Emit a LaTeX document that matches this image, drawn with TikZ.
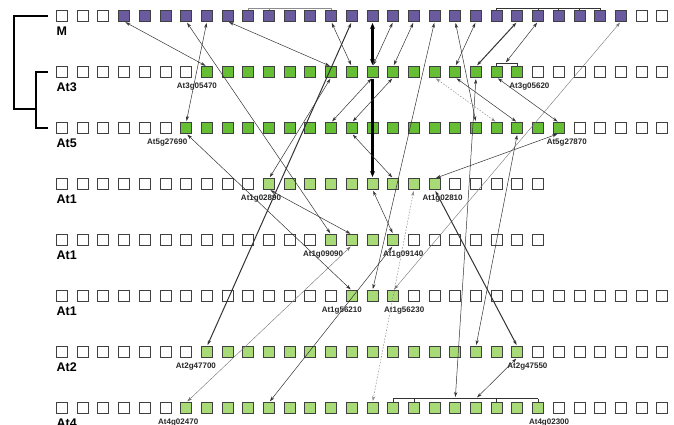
\documentclass[tikz,border=0pt]{standalone}
\usepackage{fontspec}
\setmainfont{Liberation Sans}
\usetikzlibrary{arrows.meta,positioning,calc}
\definecolor{mauve}{HTML}{6A5A9E}
\definecolor{dup}{HTML}{66BE34}
\definecolor{seg}{HTML}{A8DA78}
\definecolor{wire}{HTML}{333333}

\begin{document}
\begin{tikzpicture}[x=1pt, y=-1pt,
  gene/.style={draw=black!75,line width=0.9pt,minimum size=11pt,inner sep=0pt,outer sep=0pt},
  chrom/.style={font=\fontsize{12.5}{14}\selectfont\bfseries,inner sep=0pt,anchor=north west},
  tag/.style={font=\fontsize{8}{9}\selectfont\bfseries,inner sep=0pt,text=black!85},
  link/.style={<->,>={Stealth[length=5pt,width=3.2pt]},draw=wire,line width=0.5pt,shorten <=1.5pt,shorten >=1.5pt},
  bold link/.style={link,line width=1pt},
  heavy/.style={link,line width=2.2pt,>={Stealth[length=6pt,width=5pt]},draw=black},
  faint/.style={link,draw=black!55,line width=0.4pt},
  dotlink/.style={link,draw=black!45,dash pattern=on 1.5pt off 1.5pt},
  brk/.style={draw=black!80,line width=0.7pt},
  tree/.style={draw=black,line width=1.2pt},
]
  \useasboundingbox (0,0) rectangle (674,425);
  \clip (0,0) rectangle (674,425);

  % chromosome rows
  \foreach \row/\ypos/\n/\lo/\hi/\tint in {M/16/29/3/27/mauve, At3/72/29/7/22/dup, At5/128/29/6/24/dup,
      At1a/184/23/10/18/seg, At1b/240/23/13/16/seg, At1c/296/29/14/16/seg, At2/352/29/7/22/seg, At4/408/29/6/23/seg}{
    \foreach \i in {0,...,\n}{
      \ifnum\i<\lo\relax \def\fc{white}\else \ifnum\i>\hi\relax \def\fc{white}\else \edef\fc{\tint}\fi\fi
      \node[gene,fill=\fc] (\row-\i) at ({62+20.7*\i},\ypos) {};
    }
  }
  \foreach \row/\txt in {M/M,At3/At3,At5/At5,At1a/At1,At1b/At1,At1c/At1,At2/At2,At4/At4}
    \node[chrom] (lab-\row) at ([yshift=-5pt]\row-0.south west) {\txt};

  % tree
  \draw[tree] ([xshift=-9pt]M-0.west) -| (14,109) -- (36,109);
  \draw[tree] ([xshift=-9pt]At3-0.west) -| (36,128) -- ([xshift=-9pt]At5-0.west);

  % brackets
  \draw[brk,draw=black!45] ([yshift=2.5pt]M-9.north) -- ([yshift=2.5pt]M-13.north);
  \foreach \i in {9,10,13} \draw[brk,draw=black!45] (M-\i.north) -- ++(0,-2.5);
  \draw[brk] ([yshift=2.5pt]M-21.north) -- ([yshift=2.5pt]M-26.north);
  \foreach \i in {21,23,24,25,26} \draw[brk] (M-\i.north) -- ++(0,-2.5);
  \draw[brk] ([yshift=3pt]At3-21.north) coordinate (b3l) -- ([yshift=3pt]At3-22.north) coordinate (b3r);
  \foreach \i in {21,22} \draw[brk] (At3-\i.north) -- ++(0,-3);
  \draw[brk] ([yshift=4pt]At4-16.north) -- ([yshift=4pt]At4-23.north);
  \foreach \i in {16,17,21,23} \draw[brk] (At4-\i.north) -- ++(0,-4);
  \coordinate (b4a) at ([yshift=4pt]At4-19.north);
  \coordinate (b4b) at ([yshift=4pt]At4-20.north);

  % gene names
  \node[tag,below=5.5pt of At3-7,xshift=-10pt] (g1) {At3g05470};
  \node[tag,below=5.5pt of At3-22,xshift=12pt] (g2) {At3g05620};
  \node[tag,below=5.5pt of At5-6,xshift=-19pt] (g3) {At5g27690};
  \node[tag,below=5.5pt of At5-24,xshift=8pt] (g4) {At5g27870};
  \node[tag,below=5.5pt of At1a-10,xshift=-8pt] (g5) {At1g02890};
  \node[tag,below=5.5pt of At1a-18,xshift=8pt] (g6) {At1g02810};
  \node[tag,below=5.5pt of At1b-13,xshift=-8pt] (g7) {At1g09090};
  \node[tag,below=5.5pt of At1b-16,xshift=10pt] (g8) {At1g09140};
  \node[tag,below=5.5pt of At1c-14,xshift=-10pt] (g9) {At1g56210};
  \node[tag,below=5.5pt of At1c-16,xshift=11pt] (g10) {At1g56230};
  \node[tag,below=5.5pt of At2-7,xshift=-11pt] (g11) {At2g47700};
  \node[tag,below=5.5pt of At2-22,xshift=10pt] (g12) {At2g47550};
  \node[tag,below=5.5pt of At4-6,xshift=-8pt] (g13) {At4g02470};
  \node[tag,below=5.5pt of At4-23,xshift=11pt] (g14) {At4g02300};

  % M to At3 / At5 and below
  \draw[link] (M-3.south) -- (At3-7.north);
  \draw[link] (M-7.south) -- (At5-6.north);
  \draw[link] (M-6.south) -- (At1b-13.north);
  \draw[link] (M-8.south) -- (At3-13.north);
  \draw[link] (M-13.south) -- (At3-14.north);
  \draw[bold link] (M-14.south) -- (At2-7.north);
  \draw[heavy] (M-15.south) -- (At3-15.north);
  \draw[heavy,->] (At3-15.south) -- (At1a-15.north);
  \draw[link] (M-16.south) -- (At3-15.north);
  \draw[link] (M-17.south) -- (At3-16.north);
  \draw[link] (M-18.south) -- (At1c-15.north);
  \draw[link] (M-19.south) -- (At5-20.north);
  \draw[link] (M-20.south) -- (At3-19.north);
  \draw[bold link] (M-22.south) -- (At3-20.north);
  \draw[link] (M-23.south) -- ($(b3l)!0.4!(b3r)$);
  \draw[faint] (M-27.south) -- (At1c-16.north);

  % At3 to lower rows
  \draw[link] (At3-13.south) -- (At1a-10.north);
  \draw[link] (At3-15.south) -- (At5-13.north);
  \draw[link] (At3-16.south) -- (At5-14.north);
  \draw[dotlink] (At3-18.south) -- (At5-21.north);
  \draw[link] (At3-19.south) -- (At5-22.north);
  \draw[link] (At3-20.south) -- (b4a);
  \draw[link] (At3-21.south) -- (At5-24.north);

  % At5 to lower rows
  \draw[link] (At5-6.south) -- (At1c-14.north);
  \draw[link] (At5-14.south) -- (At1a-16.north);
  \draw[link] (At5-22.south) -- (At2-20.north);
  \draw[link] (At5-24.south) -- (At1a-18.north);

  % At1 / At2 to lower rows
  \draw[link] (At1a-10.south) -- (At1b-14.north);
  \draw[link] (At1a-15.south) -- (At1b-16.north);
  \draw[dotlink] (At1a-17.south) -- (At4-15.north);
  \draw[bold link] (At1a-18.south) -- (At2-22.north);
  \draw[faint] (At1b-14.south) -- (At4-6.north);
  \draw[link] (At1b-16.south) -- (At4-10.north);
  \draw[link] (At2-22.south) -- (b4b);
\end{tikzpicture}
\end{document}
